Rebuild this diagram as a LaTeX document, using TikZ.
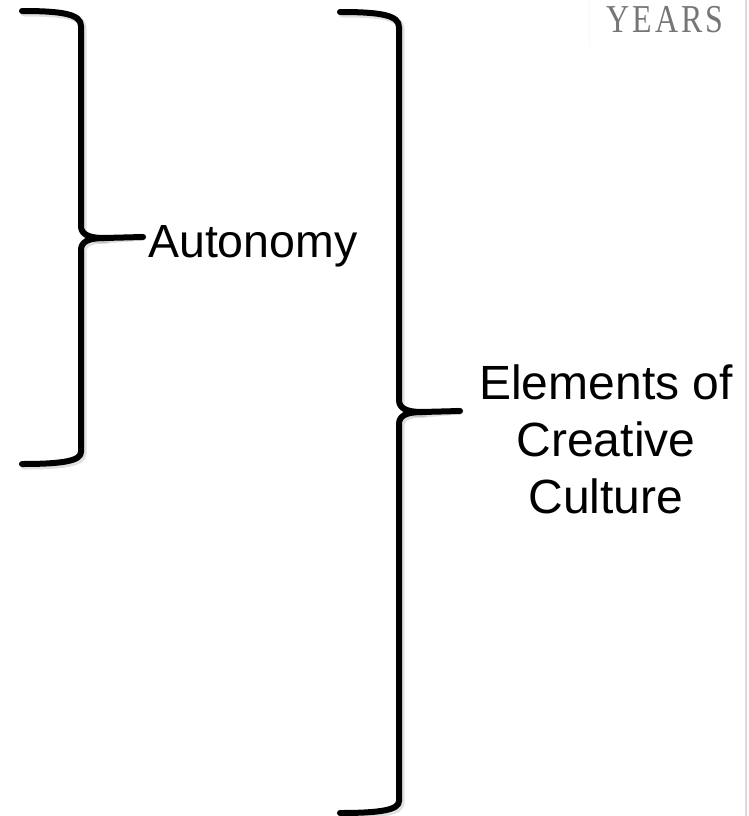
\documentclass[tikz,border=0pt]{standalone}
\usepackage{fontspec}
\setmainfont{Liberation Sans}
\newfontfamily\yearsfont[LetterSpace=10]{Liberation Serif}
\definecolor{yearsgray}{RGB}{118,118,118}
\definecolor{edgegray}{RGB}{218,218,218}
\definecolor{faintgray}{RGB}{249,249,249}
\begin{document}
\begin{tikzpicture}[x=1pt,y=-1pt,
  bracestroke/.style={line width=6pt, line cap=round, line join=round, black},
  braceshadow/.style={line width=7pt, line cap=round, line join=round, black, opacity=0.12},
  label/.style={font=\fontsize{46.5}{57}\selectfont, inner sep=0pt, text=black},
  biglabel/.style={font=\fontsize{48}{57}\selectfont, inner sep=0pt, text=black}]
\useasboundingbox (0,0) rectangle (748,816);
\fill[white] (0,0) rectangle (748,816);
% faint frame lines
\draw[faintgray, line width=1pt] (589,0) -- (589,45);
\draw[edgegray, line width=2pt] (746,0) -- (746,816);
% header
\node[anchor=base west, inner sep=0pt, text=yearsgray] (years) at (606,33)
  {\scalebox{0.84}[1.04]{\fontsize{38}{40}\yearsfont YEARS}};
% labels
\node[label, anchor=base west] (auto) at (148,257) {Autonomy};
\node[biglabel, anchor=base, align=center] (elem) at (606,513) {Elements of\\Creative\\Culture};
\coordinate (tipA) at (143,237);
\coordinate (tipB) at (460,411);
% braces
\foreach \s/\o in {braceshadow/2, bracestroke/0}{
\draw[\s, shift={(\o,\o+1)}] (22,10) .. controls (62,10) and (81,13) .. (81,25) -- (81,225)
   .. controls (81,233) and (88,237) .. (104,237) -- (tipA);
\draw[\s, shift={(\o,\o+1)}] (104,237) .. controls (88,237) and (81,241) .. (81,249) -- (81,451)
   .. controls (81,460) and (62,463) .. (22,463);
\draw[\s, shift={(\o,\o+1)}] (340,11) .. controls (380,11) and (399,14) .. (399,26) -- (399,399)
   .. controls (399,407) and (406,411) .. (422,411) -- (tipB);
\draw[\s, shift={(\o,\o+1)}] (422,411) .. controls (406,411) and (399,415) .. (399,423) -- (399,800)
   .. controls (399,809) and (380,812) .. (340,812);
}
\end{tikzpicture}
\end{document}
